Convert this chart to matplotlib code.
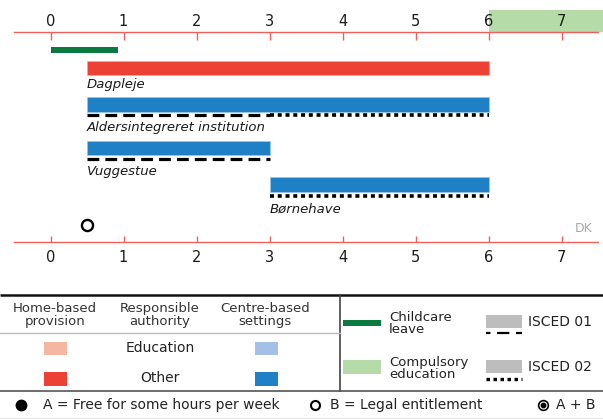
import matplotlib
matplotlib.use("Agg")
import matplotlib.pyplot as plt
from matplotlib.patches import Rectangle

plt.rcParams['font.family'] = ['DejaVu Sans']

# ---------------- data ----------------
years = [0, 1, 2, 3, 4, 5, 6, 7]
categories = ['Dagpleje', 'Aldersintegreret institution', 'Vuggestue', 'Børnehave']
starts = [0.5, 0.5, 0.5, 3.0]
ends = [6.0, 6.0, 3.0, 6.0]
setting = ['home', 'centre', 'centre', 'centre']
authority = ['Other', 'Other', 'Other', 'Other']
isced01 = [None, (0.5, 3.0), (0.5, 3.0), None]
isced02 = [None, (3.0, 6.0), None, (3.0, 6.0)]
childcare_leave = (0.0, 0.93)
compulsory_from = 6.0
legal_entitlement_age = 0.5
country = 'DK'

# ---------------- style ----------------
RED = '#EE4136'
BLUE = '#1F80C6'
SALMON = '#F5B7A1'
LBLUE = '#A4C0E6'
DGREEN = '#0A7A40'
LGREEN = '#B5DCA8'
GREY = '#BDBDBD'
AXRED = '#F0605A'
TXT = '#1A1A1A'
colors = {('home', 'Other'): RED, ('centre', 'Other'): BLUE,
          ('home', 'Education'): SALMON, ('centre', 'Education'): LBLUE}

W, H = 603, 419
fig = plt.figure(figsize=(W / 100, H / 100), dpi=100)

top_px, bot_px = 32, 242
ax = fig.add_axes([14 / W, 1 - bot_px / H, 584 / W, (bot_px - top_px) / H])
ax.set_xlim(-0.5, 7.5)
ax.set_ylim(bot_px, top_px)
ax.set_facecolor('none')
for s in ['left', 'right', 'top']:
    ax.spines[s].set_visible(False)
ax.spines['bottom'].set_color(AXRED)
ax.spines['bottom'].set_linewidth(1.0)
ax.set_yticks([])
ax.set_xticks(years)
ax.tick_params(axis='x', direction='in', length=4.5, width=1.0, color=AXRED,
               pad=6, labelsize=10.5, labelcolor=TXT)

sec = ax.secondary_xaxis('top')
sec.set_xticks(years)
sec.spines['top'].set_color(AXRED)
sec.spines['top'].set_linewidth(1.0)
sec.tick_params(axis='x', direction='in', length=5.4, width=1.0, color=AXRED,
                pad=2, labelsize=10.5, labelcolor=TXT)

# compulsory education band above the top axis
ax.add_patch(Rectangle((compulsory_from, top_px), 7.6 - compulsory_from, -22,
                       facecolor=LGREEN, edgecolor='none', clip_on=False, zorder=0))

# childcare leave
ax.barh(50, childcare_leave[1] - childcare_leave[0], left=childcare_leave[0],
        height=6.7, color=DGREEN, zorder=2)

row_y = [68, 104.7, 148, 184.7]
line_y = [None, 115.5, 159, 195.7]
label_y = [85, 128, 172, 209]

for i, cat in enumerate(categories):
    c = colors[(setting[i], authority[i])]
    ax.barh(row_y[i], ends[i] - starts[i], left=starts[i], height=14.5,
            color=c, edgecolor='#9CC6E8' if setting[i] == 'centre' else '#F5A59E',
            linewidth=0.5, zorder=2)
    if isced01[i] is not None:
        a, b = isced01[i]
        ax.hlines(line_y[i], a, b, colors='black', linewidth=2.3,
                  linestyles=(0, (3.7, 1.9)), capstyle='butt', zorder=3)
    if isced02[i] is not None:
        a, b = isced02[i]
        ax.hlines(line_y[i], a, b, colors='black', linewidth=2.6,
                  linestyles=(0, (1.1, 1.05)), capstyle='butt', zorder=3)
    ax.text(starts[i], label_y[i], cat, ha='left', va='center', fontsize=9.5,
            style='italic', color=TXT)

ax.plot(legal_entitlement_age, 225, 'o', ms=8, mfc='white', mec='black', mew=1.7, zorder=4)
ax.text(7.43, 229, country, ha='right', va='center', fontsize=9, color='#A8A8A8')

# ---------------- legend (pixel coordinates) ----------------
lax = fig.add_axes([0, 0, 1, 1])
lax.set_xlim(0, W)
lax.set_ylim(H, 0)
lax.axis('off')
lax.set_facecolor('none')

lax.plot([0, W], [295, 295], color='#111111', lw=1.8, solid_capstyle='butt')
lax.plot([340, 340], [295, 391], color='#444444', lw=1.2)
lax.plot([0, 340], [333, 333], color='#BBBBBB', lw=1.0)
lax.plot([0, W], [391, 391], color='#555555', lw=1.2)
lax.plot([0, W], [418, 418], color='#E4E4E4', lw=0.8)

hdr_kw = dict(ha='center', va='center', fontsize=9.5, color='#333333', linespacing=0.95)
lax.text(55, 315, 'Home-based\nprovision', **hdr_kw)
lax.text(160, 315, 'Responsible\nauthority', **hdr_kw)
lax.text(265, 315, 'Centre-based\nsettings', **hdr_kw)

lax.add_patch(Rectangle((44, 342), 23, 13, facecolor=SALMON, edgecolor='none'))
lax.add_patch(Rectangle((255, 342), 23, 13, facecolor=LBLUE, edgecolor='none'))
lax.add_patch(Rectangle((44, 372), 23, 14, facecolor=RED, edgecolor='none'))
lax.add_patch(Rectangle((255, 372), 23, 14, facecolor=BLUE, edgecolor='none'))
lax.text(160, 348, 'Education', ha='center', va='center', fontsize=10, color='#222222')
lax.text(160, 378, 'Other', ha='center', va='center', fontsize=10, color='#222222')

lax.add_patch(Rectangle((343, 320), 38, 6, facecolor=DGREEN, edgecolor='none'))
lax.add_patch(Rectangle((343, 360), 38, 14, facecolor=LGREEN, edgecolor='none'))
lax.text(389, 323, 'Childcare\nleave', ha='left', va='center', fontsize=9.5,
         color='#222222', linespacing=0.9)
lax.text(389, 368, 'Compulsory\neducation', ha='left', va='center', fontsize=9.5,
         color='#222222', linespacing=0.9)

lax.add_patch(Rectangle((486, 315), 36, 13, facecolor=GREY, edgecolor='none'))
lax.add_patch(Rectangle((486, 360), 36, 13, facecolor=GREY, edgecolor='none'))
lax.plot([486, 522], [333, 333], color='black', lw=1.6,
         linestyle=(3.5, (5.5, 3)), solid_capstyle='butt', dash_capstyle='butt')
lax.plot([486, 522], [379, 379], color='black', lw=2.4,
         linestyle=(0, (1.05, 1.05)), dash_capstyle='butt')
lax.text(528, 322, 'ISCED 01', ha='left', va='center', fontsize=10, color='#222222')
lax.text(528, 367, 'ISCED 02', ha='left', va='center', fontsize=10, color='#222222')

lax.plot(21, 405, 'o', ms=7.5, color='black')
lax.text(43, 405, 'A = Free for some hours per week', ha='left', va='center',
         fontsize=10, color='#222222')
lax.plot(315, 405, 'o', ms=6.5, mfc='white', mec='black', mew=1.5)
lax.text(330, 405, 'B = Legal entitlement', ha='left', va='center',
         fontsize=10, color='#222222')
lax.plot(543, 405, 'o', ms=7, mfc='white', mec='black', mew=1.2)
lax.plot(543, 405, 'o', ms=3.2, color='black')
lax.text(556, 405, 'A + B', ha='left', va='center', fontsize=10, color='#222222')

fig.savefig('out.png', dpi=100)
